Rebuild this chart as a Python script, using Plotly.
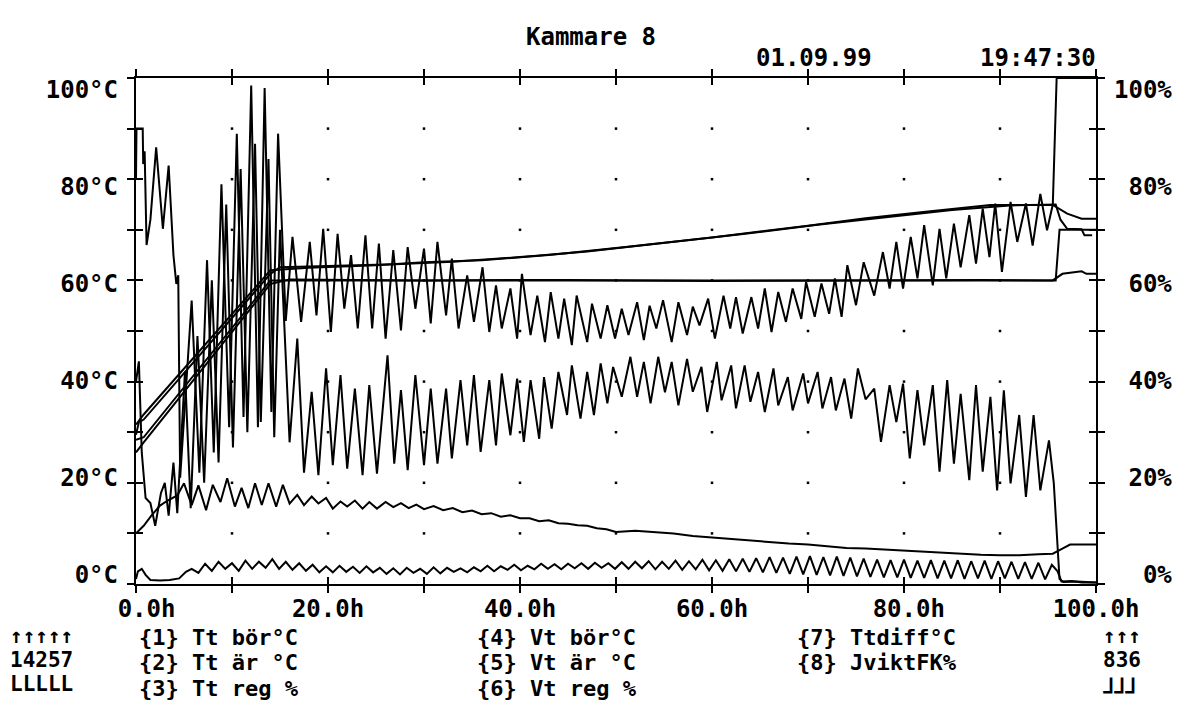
import plotly.graph_objects as go

# ---------------- data (hours, value) ----------------
# {1} Tt bör °C
TT_BOR_T = [0, 0.8, 14.0, 18, 25, 30, 36, 43, 51, 60, 70, 76, 82, 89, 95.5, 97, 98.5, 100]
TT_BOR_V = [31.5, 33.5, 62.0, 62.5, 63.0, 63.6, 64.0, 65.0, 66.6, 68.5, 70.8, 72.3, 73.5, 74.9, 74.9, 73.2, 72.2, 72.2]
# {2} Tt är °C
TT_AR_T = [0, 0.3, 0.8, 14.0, 15, 20, 27, 33, 40, 47, 55, 63, 71, 78, 85, 91, 95.8, 96.3, 97, 98.5, 98.8, 99.6]
TT_AR_V = [29.5, 32, 32.5, 61.3, 62.6, 62.8, 63.2, 63.7, 64.6, 65.7, 67.4, 69.1, 71.0, 72.5, 73.9, 74.8, 75.0, 72.0, 70.2, 70.1, 68.9, 68.9]
# {4} Vt bör °C
VT_BOR_T = [0, 0.8, 14.0, 95.8, 96.2, 100]
VT_BOR_V = [28.5, 29.0, 60.0, 60.0, 70.0, 70.0]
# {5} Vt är °C
VT_AR_T = [0, 0.8, 14.0, 16, 30, 45, 60, 75, 88, 95.5, 96.5, 98.5, 99, 100]
VT_AR_V = [26, 28, 59.3, 60.2, 60.0, 60.1, 59.9, 60.0, 60.1, 60.0, 61.3, 61.8, 61.3, 61.3]

# {3} Tt reg %
TT_REG_T = [0, 0.05, 0.7, 0.75, 0.9, 1.1, 1.5, 2.1, 2.8, 3.4, 3.9, 4.2, 4.4,
            4.6, 5.8, 6.6, 7.4, 8.1, 8.9, 9.7, 10.5, 11.2, 12.0, 12.7, 13.4, 14.1, 14.8, 15.6,
            16.3, 17.2, 18.1, 18.8, 19.5, 20.3, 21.0, 21.7, 22.4, 23.1,
            23.9, 24.6, 25.3, 26.0, 26.8, 27.6, 28.3, 29.1, 30.0, 30.7, 31.4, 32.3, 32.9, 33.6, 34.5, 35.2, 36.1, 36.8, 37.5, 38.1,
            39.0, 39.7, 40.2, 41.1, 41.8, 42.6, 43.2, 44.0, 44.6, 45.4, 45.9, 47.0, 47.5, 48.4, 49.1, 49.9, 50.6, 51.3, 52.2, 52.9,
            53.5, 54.2, 54.9, 55.8, 56.5, 57.4, 58.0, 58.7, 59.6, 60.3, 61.2, 61.9, 62.5, 63.2, 64.1, 64.8, 65.5, 66.2, 66.9, 67.7,
            68.4, 69.3, 69.8, 70.7, 71.4, 72.2, 72.8, 73.5, 74.1, 75.0, 75.8, 76.9, 77.8, 78.5, 79.2, 79.9, 80.7, 81.4, 82.1, 83.0,
            83.7, 84.4, 85.2, 85.9, 86.8, 87.5, 88.2, 88.9, 89.5, 90.2, 91.1, 91.8, 92.7, 93.4, 94.2, 94.9, 95.5, 95.9, 100]
TT_REG_V = [80, 90, 90, 83, 85.5, 67, 72, 86.3, 70.2, 82.7, 65, 59.3, 61,
            21, 56, 22, 64, 26, 79, 31, 89, 33, 98.5, 31, 98, 34, 89, 52,
            68.6, 51.8, 67.6, 53.1, 70.2, 49.8, 69.2, 54.4, 65, 50.5,
            68.9, 50.5, 67.3, 48.5, 66, 50.1, 66.6, 54.4, 66.3, 51.5, 67.6, 53.1, 64.3, 50.5, 61, 51.8, 62.6, 49.8, 59, 50.5,
            58.4, 48.5, 61.3, 49.2, 57, 47.8, 57.7, 48.5, 56.4, 47.2, 57, 47.8, 55.4, 48.5, 55.1, 48.5, 54.4, 49.2, 55.7, 48.2,
            55, 50.5, 56.1, 47.8, 55.7, 49.2, 54.8, 51.1, 56.4, 48.5, 57, 50.5, 56.7, 49.5, 56.7, 50.5, 58.4, 49.8, 57.7, 51.8,
            58.4, 52.4, 59.7, 52.8, 59.4, 53.4, 60.4, 52.8, 63, 55.1, 63.6, 57, 65.6, 58.4, 67.6, 58.4, 68.6, 60.4, 70.9, 59,
            70.2, 60.4, 71.2, 62.6, 72.9, 63.3, 74.2, 64.6, 75.2, 61.7, 75.5, 67.6, 75.2, 66.9, 77.1, 69.9, 75, 100, 100]

# {6} Vt reg %
VT_REG_T = [0, 0.3, 0.6, 1.0, 1.5, 2.0, 2.6, 3.0, 3.4, 3.9, 4.3,
            5.1, 5.7, 6.4, 7.1, 7.9, 8.6, 9.4, 10.1, 10.9, 11.6, 12.4, 13.0, 13.8, 14.4, 15.0, 16.0,
            16.8, 17.5, 18.3, 19.0, 19.8, 20.5, 21.3, 22.0, 22.8, 23.6, 24.3, 25.1, 26.2,
            26.9, 27.6, 28.3, 29.1, 30.0, 30.7, 31.4, 32.3, 32.9, 33.8, 34.5, 35.2, 35.9, 36.8, 37.5, 38.1, 39.0, 39.7, 40.4, 41.1,
            42.0, 42.5, 43.3, 44.0, 44.9, 45.4, 46.3, 47.0, 47.7, 48.4, 49.1, 49.7, 50.6, 51.5, 52.2, 52.9, 53.6, 54.4, 55.1, 55.8,
            56.5, 57.4, 58.0, 58.9, 59.5, 60.5, 61.0, 62.0, 62.5, 63.4, 64.0, 64.8, 65.5, 66.4, 66.9, 67.9, 68.4, 69.5, 70.0, 71.0,
            71.5, 72.4, 72.9, 73.8, 74.5, 75.2, 76.0, 76.9, 77.6, 78.5, 79.2, 79.9, 80.6, 81.4, 82.1, 83.0, 83.7, 84.5, 85.2, 85.9,
            86.8, 87.5, 88.2, 89.0, 89.7, 90.4, 91.1, 92.0, 92.7, 93.5, 94.2, 95.1, 95.6, 96.2, 96.6, 98.0, 100]
VT_REG_V = [40, 44, 26, 17, 16, 11.5, 18, 20, 13.5, 24, 14,
            42, 15, 49, 20, 60, 24, 75, 27, 82, 30, 87, 32, 84, 29, 70, 28,
            48.5, 22, 38, 21.5, 42.6, 23.5, 41.3, 22.8, 38.6, 21.5, 39.3, 21.8, 45.2,
            23.8, 38.3, 22.5, 41.3, 23.5, 38.6, 23.8, 38.6, 24.8, 40.3, 27.4, 41.3, 26.1, 40.3, 27.4, 41.6, 29.4, 40.6, 28.1, 40.3,
            28.7, 40.9, 30.7, 41.9, 33.4, 43.2, 32.7, 41.9, 33.4, 43.6, 35.7, 42.9, 37.0, 44.9, 37.0, 43.9, 35.7, 44.9, 37.9, 43.9,
            35.3, 44.5, 38.0, 42.9, 34.0, 43.9, 36.3, 43.2, 34.7, 43.2, 36.0, 41.9, 34.0, 42.6, 35.3, 40.9, 34.3, 41.6, 35.7, 41.9,
            34.7, 40.9, 34.3, 40.6, 32.7, 42.6, 36.5, 38.6, 28.1, 39.3, 32.0, 39.6, 24.8, 38.3, 27.4, 39.3, 22.2, 40.3, 23.8, 37.6,
            20.5, 39.3, 22.2, 37.0, 18.5, 38.3, 19.9, 33.4, 17.2, 33.4, 18.5, 28.4, 20.0, 1.0, 0.4, 0.5, 0.3]

# {8} JviktFK %
JVIKT_T = [0, 0.8, 1.6, 2.5, 3.3, 4.3, 5.0, 5.8, 6.5, 7.3, 8.0, 8.8, 9.5, 10.3, 11.0, 11.7, 12.4, 13.1, 13.8, 14.6,
           15.3, 16.0, 16.8, 17.5, 18.3, 19.0, 19.8, 20.5, 21.3, 22.0, 22.8, 23.6, 24.3, 25.1, 26.0, 26.8, 27.6, 28.4, 29.2, 30.0,
           31, 32, 33, 34, 35, 36, 37, 38, 39, 40, 41, 42, 43, 44, 45, 46, 47, 48, 49, 50,
           52, 54, 56, 58, 60, 62, 64, 66, 68, 70, 72, 74, 76, 78, 80, 82, 84, 86, 88, 90,
           92, 94, 95.5, 96.5, 97.3, 100]
JVIKT_V = [10, 11.5, 13.5, 15.5, 16.5, 17.5, 19.9, 15.6, 19.5, 14.6, 19.6, 16.2, 20.9, 15.3, 19.0, 15.0, 19.9, 15.6, 19.9, 15.3,
           19.6, 15.9, 17.6, 15.6, 17.3, 15.9, 17.0, 14.9, 16.3, 15.3, 16.5, 14.9, 16.2, 14.9, 16.2, 15.2, 16.0, 15.0, 15.7, 14.8,
           15.4, 14.6, 15.0, 14.2, 14.5, 13.8, 14.0, 13.3, 13.6, 13.0, 13.0, 12.4, 12.6, 12.0, 11.9, 11.6, 11.5, 11.0, 10.8, 10.3,
           10.5, 10.2, 10.0, 9.5, 9.2, 8.8, 8.6, 8.2, 8.0, 7.8, 7.5, 7.1, 7.0, 6.8, 6.6, 6.4, 6.1, 6.0, 5.8, 5.7,
           5.7, 5.9, 6.0, 7.0, 7.8, 7.8]

# {7} Ttdiff °C
TTDIFF_T = [0, 0.2, 0.6, 1.0, 1.5, 2.5, 3.5, 4.5, 5.2, 5.8, 6.5, 7.2, 7.9, 8.6, 9.3, 10.0, 10.7, 11.4, 12.1, 12.8,
            13.5, 14.2, 14.9, 15.6, 16.3, 17.0, 17.7, 18.4, 19.1, 19.8, 20.5, 21.2, 21.9, 22.6, 23.3, 24.0, 24.7, 25.4, 26.1, 26.8,
            27.5, 28.2, 28.9, 29.6, 30.3, 31.0, 31.7, 32.4, 33.1, 33.8, 34.5, 35.2, 35.9, 36.6, 37.3, 38.0, 38.7, 39.4, 40.1, 40.8,
            41.5, 42.2, 42.9, 43.6, 44.3, 45.0, 45.7, 46.4, 47.1, 47.8, 48.5, 49.2, 49.9, 50.6, 51.3, 52.0, 52.7, 53.4, 54.1, 54.8,
            55.5, 56.2, 56.9, 57.6, 58.3, 59.0, 59.7, 60.4, 61.1, 61.8, 62.5, 63.2, 63.9, 64.6, 65.3, 66.0, 66.7, 67.4, 68.1, 68.8,
            69.5, 70.2, 70.9, 71.6, 72.3, 73.0, 73.7, 74.4, 75.1, 75.8, 76.5, 77.2, 77.9, 78.6, 79.3, 80.0, 80.7, 81.4, 82.1, 82.8,
            83.5, 84.2, 84.9, 85.6, 86.3, 87.0, 87.7, 88.4, 89.1, 89.8, 90.5, 91.2, 91.9, 92.6, 93.3, 94.0, 94.7, 95.4, 96.0, 96.4,
            97.5, 98.5, 100]
TTDIFF_V = [1.0, 2.5, 3.0, 1.8, 0.8, 0.7, 0.8, 1.1, 2.4, 3.0, 2.2, 4.0, 2.6, 4.4, 3.0, 4.1, 2.6, 4.6, 3.0, 4.4,
            3.2, 4.9, 3.0, 4.4, 2.8, 4.1, 2.6, 3.8, 2.3, 3.5, 2.3, 3.6, 2.4, 3.4, 2.2, 3.5, 2.3, 3.2, 2.0, 3.1,
            1.9, 3.2, 2.2, 3.0, 2.0, 3.3, 2.1, 3.2, 2.4, 3.1, 2.3, 3.3, 2.5, 3.6, 2.5, 3.5, 2.8, 3.8, 2.7, 3.6,
            2.9, 4.0, 3.0, 3.9, 2.9, 4.0, 3.1, 4.1, 3.0, 4.2, 3.2, 4.1, 3.0, 4.3, 3.0, 4.4, 3.1, 4.5, 2.9, 4.4,
            3.0, 4.6, 2.8, 4.5, 2.9, 4.8, 2.7, 4.7, 2.6, 4.9, 2.5, 5.0, 2.4, 5.1, 2.3, 5.3, 2.2, 5.2, 2.0, 5.4,
            1.9, 5.5, 1.8, 5.3, 1.7, 5.4, 1.6, 5.2, 1.5, 5.0, 1.4, 4.8, 1.3, 4.7, 1.3, 4.8, 1.2, 4.6, 1.2, 4.7,
            1.1, 4.6, 1.1, 4.7, 1.0, 4.5, 1.1, 4.6, 1.0, 4.5, 1.1, 4.4, 1.0, 4.3, 1.0, 4.2, 0.9, 3.8, 2.5, 0.5,
            0.6, 0.3, 0.3]

# ---------------- axes / labels ----------------
X_TICKS = list(range(0, 101, 10))
Y_TICKS = list(range(0, 101, 10))
X_LABEL_POS = [1.1, 20, 40, 60, 80.5, 100]
X_LABELS = ["0.0h", "20.0h", "40.0h", "60.0h", "80.0h", "100.0h"]
Y_LABEL_POS = [1.8, 21.0, 40.2, 59.3, 78.5, 97.7]
Y_LEFT_LABELS = ["0°C", "20°C", "40°C", "60°C", "80°C", "100°C"]
Y_RIGHT_LABELS = ["\u00a0\u00a00%", "\u00a020%", "\u00a040%", "\u00a060%", "\u00a080%", "100%"]

TITLE = "Kammare 8"
DATE = "01.09.99"
TIME = "19:47:30"
LEGEND_ROWS = [
    ["{1} Tt bör°C", "{2} Tt är °C", "{3} Tt reg %"],
    ["{4} Vt bör°C", "{5} Vt är °C", "{6} Vt reg %"],
    ["{7} Ttdiff°C", "{8} JviktFK%"],
]
LEFT_MARK = ["↑↑↑↑↑", "14257", "LLLLL"]
RIGHT_MARK = ["↑↑↑", "836", "⅃⅃⅃"]

for a, b in [(TT_BOR_T, TT_BOR_V), (TT_AR_T, TT_AR_V), (VT_BOR_T, VT_BOR_V), (VT_AR_T, VT_AR_V),
             (TT_REG_T, TT_REG_V), (VT_REG_T, VT_REG_V), (JVIKT_T, JVIKT_V), (TTDIFF_T, TTDIFF_V)]:
    assert len(a) == len(b), (len(a), len(b))

# ---------------- figure ----------------
W, H = 1184, 716
ML, MR, MT, MB = 136, 85, 78, 132
PW, PH = W - ML - MR, H - MT - MB

FONT = dict(family="DejaVu Sans Mono", size=24, color="black", weight="bold")
LEG_FONT = dict(family="DejaVu Sans Mono", size=22, color="black", weight="bold")
MARK_FONT = dict(family="DejaVu Sans Mono", size=21, color="black", weight="bold")
LINE = dict(color="black", width=2)

fig = go.Figure()

# grid dots at interior intersections
gx, gy = [], []
for xv in X_TICKS[1:-1]:
    for yv in Y_TICKS[1:-1]:
        gx.append(xv)
        gy.append(yv)
fig.add_trace(go.Scatter(x=gx, y=gy, mode="markers",
                         marker=dict(symbol="square", size=2.5, color="black", line=dict(width=0)),
                         hoverinfo="skip", showlegend=False))

# every axis has range 0..100; series are spread over the overlay axes so each one is drawn
placement = [
    (TT_BOR_T, TT_BOR_V, "x", "y3"),
    (TT_AR_T, TT_AR_V, "x", "y3"),
    (VT_BOR_T, VT_BOR_V, "x", "y3"),
    (VT_AR_T, VT_AR_V, "x", "y3"),
    (TTDIFF_T, TTDIFF_V, "x3", "y"),
    (TT_REG_T, TT_REG_V, "x", "y4"),
    (VT_REG_T, VT_REG_V, "x", "y2"),
    (JVIKT_T, JVIKT_V, "x2", "y"),
]
for t, v, xa, ya in placement:
    fig.add_trace(go.Scatter(x=t, y=v, mode="lines", line=LINE, xaxis=xa, yaxis=ya,
                             hoverinfo="skip", showlegend=False))

common = dict(showgrid=False, zeroline=False, range=[0, 100])
fig.update_layout(
    width=W, height=H,
    margin=dict(l=ML, r=MR, t=MT, b=MB, pad=0),
    paper_bgcolor="white", plot_bgcolor="white",
    font=FONT,
    xaxis=dict(showline=True, linecolor="black", linewidth=2, mirror="allticks",
               ticks="outside", ticklen=7, tickwidth=2, tickcolor="black", tickvals=X_TICKS,
               showticklabels=False, **common),
    xaxis2=dict(overlaying="x", anchor="y", ticks="inside", ticklen=7, tickwidth=2,
                tickcolor="black", mirror="allticks", tickvals=X_TICKS, showticklabels=False,
                showline=False, **common),
    xaxis3=dict(overlaying="x", anchor="y", side="bottom", ticks="", tickvals=X_LABEL_POS,
                ticktext=X_LABELS, tickfont=FONT, showline=False, ticklabelstandoff=8, **common),
    yaxis=dict(showline=True, linecolor="black", linewidth=2, mirror="allticks",
               ticks="outside", ticklen=7, tickwidth=2, tickcolor="black", tickvals=Y_TICKS,
               showticklabels=False, **common),
    yaxis2=dict(overlaying="y", side="right", ticks="inside", ticklen=7, tickwidth=2,
                tickcolor="black", mirror="allticks", tickvals=Y_TICKS, showticklabels=False,
                showline=False, **common),
    yaxis3=dict(overlaying="y", side="left", ticks="", tickvals=Y_LABEL_POS,
                ticktext=Y_LEFT_LABELS, tickfont=FONT, showline=False, ticklabelstandoff=17, **common),
    yaxis4=dict(overlaying="y", side="right", ticks="", tickvals=Y_LABEL_POS,
                ticktext=Y_RIGHT_LABELS, tickfont=FONT, showline=False, ticklabelstandoff=17, **common),
)


def px(xp):
    return (xp - ML) / PW


def py(yp):
    return (H - MB - yp) / PH


ann = []


def add_text(text, xp, yp, anchor="left", font=FONT):
    ann.append(dict(text=text, x=px(xp), y=py(yp), xref="paper", yref="paper",
                    xanchor=anchor, yanchor="middle", showarrow=False, font=font))


add_text(TITLE, 592, 37, "center")
add_text(DATE, 816, 58, "center")
add_text(TIME, 1101, 58, "right")

ROW_Y = [637, 662, 688]
COL_X = [137, 476, 797]
for col, rows in zip(COL_X, LEGEND_ROWS):
    for r, txt in enumerate(rows):
        add_text(txt, col, ROW_Y[r], font=LEG_FONT)
for r, txt in enumerate(LEFT_MARK):
    add_text(txt, 8, [636, 660, 684][r], font=MARK_FONT)
for r, txt in enumerate(RIGHT_MARK):
    add_text(txt, 1104, [636, 660, 686][r], font=MARK_FONT)

fig.update_layout(annotations=ann)
fig.write_html("out.html")
